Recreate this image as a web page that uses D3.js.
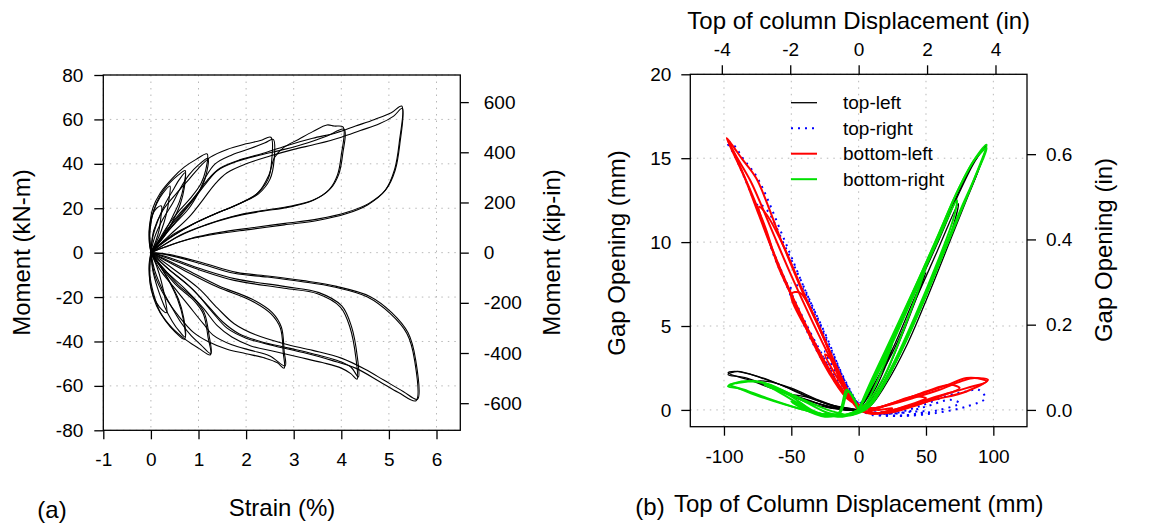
<!DOCTYPE html>
<html>
<head>
<meta charset="utf-8">
<script src="https://cdn.jsdelivr.net/npm/d3@7"></script>
<style>
    body { margin: 0; background: #fff; }
    svg text { font-family: "Liberation Sans", Arial, sans-serif; fill: #000; }
    .axis path, .axis line { stroke: #000; stroke-width: 1.3; }
    .grid line { stroke: #b8b8b8; stroke-width: 1; stroke-dasharray: 1.5,5; }
</style>
</head>
<body>
<svg id="chart" width="1153" height="527"></svg>
<script>

// ---------- (a) moment vs strain : loops, [strain %, moment kN-m] ----------
let posLoops = [
    [[0,0],[-0.04,6],[-0.03,12],[0.03,17],[0.12,20],[0.22,21],[0.21,16],[0.17,10],[0.1,5],[0.03,1.5],[0,0]],
    [[0,0],[-0.03,8],[0.02,16],[0.12,22],[0.26,27],[0.4,30],[0.38,24],[0.32,17],[0.22,10],[0.1,4],[0,0]],
    [[0,0],[-0.02,10],[0.06,19],[0.2,26],[0.4,31.5],[0.58,35],[0.72,37],[0.69,30],[0.6,23],[0.45,16],[0.28,9],[0.1,3],[0,0]],
    [[0,0],[0.04,7],[0.14,14],[0.3,22],[0.46,28],[0.6,33],[0.72,36],[0.7,29],[0.62,22],[0.48,15],[0.3,8],[0.1,2.5],[0,0]],
    [[0,0],[-0.03,10],[0.04,20],[0.2,27],[0.45,33.5],[0.7,38.5],[0.95,42],[1.18,44.5],[1.15,37],[1.05,31],[0.85,25],[0.6,19],[0.35,12],[0.12,4],[0,0]],
    [[0,0],[0.08,7],[0.25,15],[0.45,22],[0.62,29],[0.8,35],[1.0,39.5],[1.2,42.5],[1.17,36],[1.08,30],[0.88,24],[0.62,18],[0.36,11],[0.12,3.5],[0,0]],
    [[0,0],[0.06,10],[0.25,19],[0.55,27],[0.8,33],[1.0,38],[1.25,43],[1.6,46.5],[2.0,49],[2.3,50.5],[2.52,52],[2.54,42],[2.46,33],[2.2,26],[1.8,21.5],[1.3,17],[0.85,12.5],[0.45,7.5],[0.15,3],[0,0]],
    [[0,0],[0.2,6],[0.5,13],[0.8,20],[1.0,27],[1.15,34],[1.35,40],[1.7,44],[2.1,47],[2.4,49.5],[2.57,51],[2.59,42],[2.5,33],[2.26,26.5],[1.86,22],[1.36,17.5],[0.9,13],[0.5,8],[0.17,3],[0,0]],
    [[0,0],[0.45,8],[0.9,13],[1.35,17.5],[1.85,22],[2.25,27],[2.48,35],[2.6,43],[2.8,47.5],[3.1,51],[3.4,54.5],[3.7,57.5],[3.85,57],[4.04,56.5],[4.0,44],[3.92,35],[3.75,28.5],[3.4,23.5],[2.9,20.5],[2.3,18.5],[1.7,16],[1.1,12],[0.6,7.5],[0.2,2.5],[0,0]],
    [[0,0],[0.3,8],[0.6,16],[0.9,24],[1.15,31],[1.4,37],[1.8,41],[2.3,44],[2.8,46.5],[3.3,49.5],[3.7,52.5],[4.06,55.5],[4.03,44.5],[3.95,35.5],[3.78,29],[3.45,24],[2.95,21],[2.35,19],[1.75,16.5],[1.15,12.5],[0.62,8],[0.2,2.5],[0,0]],
    [[0,0],[0.3,9],[0.65,18],[0.95,26],[1.2,33],[1.45,38],[1.9,42],[2.4,45],[2.9,48.5],[3.4,51.5],[3.9,54],[4.3,57],[4.7,60],[5.05,63],[5.27,66],[5.22,50],[5.12,37.5],[4.92,28],[4.55,21.5],[4.1,17.5],[3.5,14.5],[2.8,12.5],[2.1,10.5],[1.4,8.5],[0.8,6],[0.3,2.5],[0,0]],
    [[0,0],[0.4,8],[0.8,16],[1.1,24],[1.35,31],[1.6,36],[2.0,40],[2.5,43.5],[3.0,46.5],[3.5,49],[4.0,52],[4.4,55],[4.8,58],[5.1,61.5],[5.28,65],[5.23,49],[5.13,37],[4.94,28.5],[4.58,22.2],[4.12,18.2],[3.52,15.2],[2.82,13.2],[2.12,11.2],[1.42,9],[0.82,6.3],[0.32,2.8],[0,0]]
];

let negLoops = [
    [[0,0],[-0.04,-6],[-0.02,-13],[0.06,-20],[0.18,-24.5],[0.33,-27],[0.3,-21],[0.22,-13],[0.12,-6],[0.03,-1.5],[0,0]],
    [[0,0],[-0.03,-8],[0,-16],[0.12,-24],[0.3,-30.5],[0.5,-35.5],[0.71,-39],[0.68,-30],[0.56,-21],[0.36,-12],[0.15,-4.5],[0,0]],
    [[0,0],[0.04,-8],[0.14,-16],[0.28,-24],[0.45,-31],[0.6,-35.5],[0.72,-38],[0.69,-29.5],[0.58,-21],[0.38,-12.5],[0.16,-5],[0,0]],
    [[0,0],[-0.02,-10],[0.05,-18],[0.2,-27],[0.45,-34],[0.75,-39.5],[1.0,-43],[1.25,-46],[1.2,-38],[1.1,-27.5],[0.9,-21.5],[0.55,-15],[0.27,-8],[0.08,-3],[0,0]],
    [[0,0],[0.08,-8],[0.25,-17],[0.45,-25],[0.65,-32],[0.85,-37.5],[1.05,-41.5],[1.26,-45.5],[1.22,-37],[1.12,-27],[0.92,-21],[0.57,-14.5],[0.28,-7.5],[0.08,-2.5],[0,0]],
    [[0,0],[0.08,-10],[0.3,-20],[0.6,-29],[0.9,-36],[1.2,-40],[1.6,-43.5],[2.0,-45.5],[2.4,-47.5],[2.65,-49.5],[2.8,-52],[2.78,-45],[2.72,-34],[2.52,-27.5],[2.1,-21.5],[1.4,-15.5],[0.7,-8],[0.26,-3],[0,0]],
    [[0,0],[0.2,-8],[0.5,-16],[0.8,-24],[1.1,-32],[1.3,-37],[1.7,-41.5],[2.1,-44],[2.5,-46.5],[2.82,-51],[2.8,-44.5],[2.74,-33.5],[2.55,-27],[2.13,-21],[1.43,-15],[0.73,-7.5],[0.28,-2.8],[0,0]],
    [[0,0],[0.3,-8],[0.7,-16],[1.1,-25],[1.4,-33],[1.7,-38],[2.1,-42],[2.6,-44.5],[3.1,-47],[3.6,-49.5],[4.0,-52],[4.2,-54.5],[4.33,-57],[4.31,-48],[4.18,-33.5],[3.98,-24.5],[3.5,-18.5],[2.8,-16],[1.75,-12.5],[1.05,-8],[0.35,-2.5],[0,0]],
    [[0,0],[0.35,-7],[0.8,-15],[1.2,-24],[1.5,-31],[1.85,-36.5],[2.3,-40],[2.9,-43],[3.4,-45.5],[3.9,-48.5],[4.2,-51.5],[4.36,-56],[4.34,-47.5],[4.21,-33],[4.01,-24],[3.53,-18],[2.83,-15.3],[1.78,-11.8],[1.08,-7.5],[0.38,-2.2],[0,0]],
    [[0,0],[0.4,-8],[0.9,-17],[1.3,-27],[1.6,-34],[2.0,-38.5],[2.6,-42],[3.2,-45],[3.8,-48.5],[4.3,-52],[4.8,-58],[5.2,-63],[5.57,-66.7],[5.54,-48.5],[5.38,-36.5],[5.03,-27.5],[4.55,-20],[3.85,-15.5],[3.15,-13],[2.45,-11],[1.75,-9.3],[1.05,-5],[0.35,-1],[0,0]],
    [[0,0],[0.45,-7],[1.0,-16],[1.4,-25],[1.75,-32],[2.2,-37],[2.8,-41],[3.4,-44],[4.0,-47.5],[4.5,-52.5],[4.9,-57.5],[5.3,-62.5],[5.6,-66],[5.56,-48],[5.4,-36],[5.06,-27],[4.6,-19.7],[3.9,-15.2],[3.2,-12.6],[2.5,-10.6],[1.8,-8.9],[1.1,-4.7],[0.4,-0.9],[0,0]]
];

let strainTicks = [-1, 0, 1, 2, 3, 4, 5, 6];
let momentTicks = [-80, -60, -40, -20, 0, 20, 40, 60, 80];
let kipTicks = [-600, -400, -200, 0, 200, 400, 600];

// ---------- (b) gap opening vs displacement : cycles, [disp mm, gap mm] ----------
let topLeft = [
    [[0,0],[8,0.9],[16,2.2],[25,3.6],[20,2.6],[12,1.2],[4,0.2],[0,0],[-10,0.1],[-25,0.2],[-18,0.1],[-8,0],[0,0]],
    [[0,0],[10,1.3],[25,3.6],[40,6.4],[50,8.2],[44,6.9],[32,4.4],[18,1.8],[6,0.3],[0,0],[-15,0.1],[-35,0.5],[-50,0.9],[-40,0.8],[-25,0.4],[-10,0.1],[0,0]],
    [[0,0],[10,1.3],[25,3.4],[42,6.5],[58,9.4],[74,12.3],[70,10.9],[56,8.0],[40,5.0],[24,2.3],[10,0.4],[0,0],[-20,0.1],[-40,0.5],[-60,1.2],[-75,1.7],[-68,1.7],[-50,1.3],[-30,0.6],[-12,0.1],[0,0]],
    [[0,0],[8,1.3],[22,3.7],[40,6.8],[57,9.8],[72,12.6],[85,14.7],[95,15.8],[89,14.3],[81,12.7],[69,10.3],[52,6.9],[36,3.9],[20,1.5],[8,0.2],[0,0],[-16,0.1],[-35,0.5],[-58,1.1],[-82,1.8],[-97,2.2],[-92,2.3],[-75,2.0],[-58,1.5],[-40,0.85],[-21,0.3],[-7,0.1],[0,0]],
    [[0,0],[10,1.5],[25,4.1],[43,7.2],[60,10.2],[75,13.0],[87,14.9],[95,15.7],[87,13.9],[78,12.3],[65,9.8],[48,6.5],[32,3.6],[17,1.3],[6,0.1],[0,0],[-18,0.1],[-38,0.6],[-60,1.2],[-83,1.9],[-97,2.1],[-90,2.3],[-72,1.9],[-55,1.4],[-37,0.8],[-18,0.2],[-5,0.05],[0,0]]
];

let topRight = [
    [[0,0],[10,-0.3],[20,-0.3],[25,-0.2],[15,-0.2],[5,0],[0,0.3],[-8,1.1],[-18,2.4],[-25,3.5],[-18,2.9],[-10,1.6],[-2,0.5],[0,0]],
    [[0,0],[15,-0.3],[30,-0.35],[45,-0.2],[50,-0.1],[40,-0.1],[25,-0.2],[10,0],[0,0.4],[-10,1.2],[-23,2.7],[-37,4.7],[-51,7.2],[-44,7.4],[-32,5.6],[-20,3.4],[-9,1.5],[-2,0.4],[0,0]],
    [[0,0],[20,-0.3],[40,-0.3],[60,0],[75,0.4],[68,0.6],[50,0.2],[30,-0.2],[10,-0.1],[0,0.4],[-11,1.1],[-25,3.0],[-42,5.6],[-58,8.4],[-68,10.4],[-75,12.3],[-68,11.9],[-55,9.8],[-40,7.2],[-24,4.3],[-11,1.9],[-2,0.5],[0,0]],
    [[0,0],[15,-0.3],[33,-0.36],[56,-0.2],[80,0.2],[94,0.7],[89,1.2],[80,1.1],[68,0.9],[44.5,0.2],[25,-0.2],[8,-0.1],[0,0.5],[-11,1.0],[-23,2.4],[-36,4.3],[-50,6.8],[-62,9.0],[-71,11.1],[-83,13.5],[-93,15.3],[-98,16.0],[-93,15.8],[-86,15.0],[-75,13.8],[-56,10.3],[-39,7.0],[-23,4.2],[-12,2.0],[-3,0.6],[0,0]]
];

let bottomLeft = [
    [[0,0],[10,-0.2],[20,-0.1],[25,0.1],[15,0.0],[5,0.1],[0,0.3],[-8,1.0],[-18,2.2],[-25,3.3],[-19,2.9],[-12,1.7],[-4,0.5],[0,0]],
    [[0,0],[15,-0.2],[30,0.1],[45,0.5],[50,0.7],[40,0.8],[25,0.4],[10,0.1],[0,0.3],[-10,1.0],[-22,2.4],[-36,4.4],[-50,6.9],[-44,7.0],[-33,5.6],[-22,3.6],[-12,1.8],[-4,0.5],[0,0]],
    [[0,0],[20,-0.2],[40,0.2],[60,0.8],[75,1.3],[68,1.5],[50,1.1],[30,0.5],[10,0.1],[0,0.3],[-10,0.9],[-24,2.7],[-40,5.2],[-56,8.0],[-66,10.0],[-74,12.1],[-68,11.6],[-56,9.8],[-42,7.2],[-26,4.3],[-13,1.9],[-4,0.5],[0,0]],
    [[0,0],[10,-0.24],[33,0.1],[56,0.6],[80,1.1],[96,1.8],[88,1.9],[80,1.9],[63,1.4],[44,0.9],[21,0.3],[5,-0.1],[0,0.2],[-10,0.8],[-22,2.2],[-34.5,4.1],[-48,6.5],[-60,8.6],[-69,10.8],[-81,13.2],[-92,15.2],[-98,16.2],[-94,15.8],[-87,15.0],[-76,13.8],[-58,10.2],[-41,6.9],[-25,4.1],[-14,1.8],[-5,0.5],[0,0]],
    [[0,0],[12,-0.2],[35,0.2],[58,0.8],[80,1.3],[95,1.7],[86,1.9],[76,1.7],[60,1.2],[40,0.7],[18,0.2],[4,-0.1],[0,0.2],[-11,1.0],[-25,2.8],[-38,4.8],[-52,7.2],[-64,9.5],[-74,11.6],[-85,13.9],[-97,16.0],[-90,15.0],[-80,13.6],[-66,11.0],[-50,8.0],[-34,5.2],[-20,2.9],[-9,1.2],[0,0]]
];

let bottomRight = [
    [[0,0],[8,1.2],[16,2.5],[25,3.9],[20,2.9],[12,1.4],[4,0.2],[-5,-0.3],[-15,-0.3],[-25,-0.2],[-18,-0.35],[-8,-0.3],[0,0]],
    [[0,0],[9,1.5],[24,3.9],[40,6.7],[50,8.5],[45,7.3],[33,4.7],[19,2.0],[6,0.4],[-10,-0.3],[-30,-0.2],[-50,0.5],[-42,0.1],[-25,-0.4],[-14,-0.2],[-8,1.1],[-4,0.7],[0,0]],
    [[0,0],[9,1.4],[24,3.8],[41,6.9],[57,9.8],[73,12.5],[70,11.3],[58,8.7],[42,5.6],[26,2.8],[12,0.8],[2,0],[-10,-0.3],[-30,-0.2],[-52,0.9],[-70,1.5],[-62,1.2],[-45,0.4],[-25,-0.3],[-15,-0.2],[-9,1.2],[-5,0.9],[0,0]],
    [[0,0],[8,1.5],[22,3.9],[40,7.0],[57,10.0],[72,12.8],[85,14.8],[95,15.8],[88,14.2],[80,12.6],[68,10.3],[50,6.8],[34,3.9],[18,1.4],[8,0.2],[-5,-0.3],[-19,-0.1],[-35,0.4],[-52,1.0],[-70,1.6],[-87,1.7],[-97,1.4],[-90,1.3],[-77,0.9],[-54,0.3],[-30,-0.2],[-11,-0.4],[0,0]],
    [[0,0],[10,1.7],[25,4.3],[43,7.5],[60,10.6],[75,13.3],[87,15.0],[95,15.6],[86,13.8],[76,12.0],[63,9.5],[46,6.1],[30,3.3],[15,1.0],[5,0.1],[-8,-0.3],[-22,-0.2],[-40,0.5],[-58,1.2],[-75,1.7],[-90,1.6],[-96,1.5],[-85,1.2],[-68,0.7],[-45,0.1],[-25,-0.3],[-10,-0.3],[0,0]]
];

let seriesNames = ["top-left", "top-right", "bottom-left", "bottom-right"];
let seriesColors = ["#000000", "#0000ff", "#ff0000", "#00e000"];
let dispTicks = [-100, -50, 0, 50, 100];
let inchTicks = [-4, -2, 0, 2, 4];
let gapTicks = [0, 5, 10, 15, 20];
let gapInTicks = [0.0, 0.2, 0.4, 0.6];

let svg = d3.select("#chart");
let hyphen = d => String(d);   // plain hyphen, not the unicode minus

// ================= panel (a) =================
let a = {left: 103.3, right: 460.3, top: 75, bottom: 430.3};

let xA = d3.scaleLinear().domain([-1, 6.5]).range([a.left, a.right]);
let yA = d3.scaleLinear().domain([-80, 80]).range([a.bottom, a.top]);
// 1 kN-m = 8.8507 kip-in
let yA2 = d3.scaleLinear().domain([-80 * 8.8507, 80 * 8.8507]).range([a.bottom, a.top]);

let gA = svg.append("g");

gA.append("g").attr("class", "grid")
    .selectAll("line").data(strainTicks).enter().append("line")
    .attr("x1", d => xA(d)).attr("x2", d => xA(d))
    .attr("y1", a.top).attr("y2", a.bottom);
gA.append("g").attr("class", "grid")
    .selectAll("line").data(momentTicks).enter().append("line")
    .attr("y1", d => yA(d)).attr("y2", d => yA(d))
    .attr("x1", a.left).attr("x2", a.right);

let lineA = d3.line()
    .x(d => xA(d[0]))
    .y(d => yA(d[1]))
    .curve(d3.curveCatmullRom.alpha(0.5));

gA.append("g")
    .selectAll("path")
    .data(posLoops.concat(negLoops))
    .enter().append("path")
    .attr("d", lineA)
    .attr("fill", "none")
    .attr("stroke", "#000")
    .attr("stroke-width", 1.1);

gA.append("g").attr("class", "axis")
    .attr("transform", `translate(0, ${a.bottom})`)
    .call(d3.axisBottom(xA).tickValues(strainTicks).tickSize(9).tickSizeOuter(0).tickPadding(13).tickFormat(hyphen))
    .call(g => g.select(".domain").remove());
gA.append("g").attr("class", "axis")
    .attr("transform", `translate(${a.left}, 0)`)
    .call(d3.axisLeft(yA).tickValues(momentTicks).tickSize(9).tickSizeOuter(0).tickPadding(11).tickFormat(hyphen))
    .call(g => g.select(".domain").remove());
gA.append("g").attr("class", "axis")
    .attr("transform", `translate(${a.right}, 0)`)
    .call(d3.axisRight(yA2).tickValues(kipTicks).tickSize(8.5).tickSizeOuter(0).tickPadding(15).tickFormat(hyphen))
    .call(g => g.select(".domain").remove());

gA.selectAll(".axis text").style("font-size", "19px").attr("fill", "#000");

gA.append("rect")
    .attr("x", a.left).attr("y", a.top)
    .attr("width", a.right - a.left).attr("height", a.bottom - a.top)
    .attr("fill", "none").attr("stroke", "#000").attr("stroke-width", 1.3);

gA.append("text").text("Moment (kN-m)")
    .attr("transform", "translate(21.5, 252.5) rotate(-90)")
    .attr("text-anchor", "middle").attr("dy", "0.35em").style("font-size", "24px");
gA.append("text").text("Moment (kip-in)")
    .attr("transform", "translate(551.5, 252.5) rotate(-90)")
    .attr("text-anchor", "middle").attr("dy", "0.35em").style("font-size", "24px");
gA.append("text").text("Strain (%)")
    .attr("x", 282).attr("y", 508)
    .attr("text-anchor", "middle").attr("dy", "0.35em").style("font-size", "24px");
gA.append("text").text("(a)")
    .attr("x", 52).attr("y", 510)
    .attr("text-anchor", "middle").attr("dy", "0.35em").style("font-size", "24px");

// ================= panel (b) =================
let b = {left: 690.3, right: 1027, top: 74.3, bottom: 426.7};

let xB = d3.scaleLinear().domain([-125, 125]).range([b.left, b.right]);
let xBin = d3.scaleLinear().domain([-125 / 25.4, 125 / 25.4]).range([b.left, b.right]);
let yB = d3.scaleLinear().domain([-1, 20]).range([b.bottom, b.top]);
let yBin = d3.scaleLinear().domain([-1 / 25.4, 20 / 25.4]).range([b.bottom, b.top]);

let gB = svg.append("g");

gB.append("g").attr("class", "grid")
    .selectAll("line").data(dispTicks).enter().append("line")
    .attr("x1", d => xB(d)).attr("x2", d => xB(d))
    .attr("y1", b.top).attr("y2", b.bottom);
gB.append("g").attr("class", "grid")
    .selectAll("line").data(gapTicks).enter().append("line")
    .attr("y1", d => yB(d)).attr("y2", d => yB(d))
    .attr("x1", b.left).attr("x2", b.right);

let lineB = d3.line()
    .x(d => xB(d[0]))
    .y(d => yB(d[1]))
    .curve(d3.curveCatmullRom.alpha(0.5));

let allSeries = [topLeft, topRight, bottomLeft, bottomRight];
let widths = [1.3, 2, 2, 2];

allSeries.forEach((cycles, i) => {
    gB.append("g")
        .selectAll("path")
        .data(cycles)
        .enter().append("path")
        .attr("d", lineB)
        .attr("fill", "none")
        .attr("stroke", seriesColors[i])
        .attr("stroke-width", widths[i])
        .attr("stroke-dasharray", i === 1 ? "2,5" : null);
});

gB.append("g").attr("class", "axis")
    .attr("transform", `translate(0, ${b.bottom})`)
    .call(d3.axisBottom(xB).tickValues(dispTicks).tickSize(9).tickSizeOuter(0).tickPadding(14).tickFormat(hyphen))
    .call(g => g.select(".domain").remove());
gB.append("g").attr("class", "axis")
    .attr("transform", `translate(0, ${b.top})`)
    .call(d3.axisTop(xBin).tickValues(inchTicks).tickSize(9).tickSizeOuter(0).tickPadding(9).tickFormat(hyphen))
    .call(g => g.select(".domain").remove());
gB.append("g").attr("class", "axis")
    .attr("transform", `translate(${b.left}, 0)`)
    .call(d3.axisLeft(yB).tickValues(gapTicks).tickSize(9).tickSizeOuter(0).tickPadding(10).tickFormat(hyphen))
    .call(g => g.select(".domain").remove());
gB.append("g").attr("class", "axis")
    .attr("transform", `translate(${b.right}, 0)`)
    .call(d3.axisRight(yBin).tickValues(gapInTicks).tickSize(9).tickSizeOuter(0).tickPadding(10).tickFormat(d3.format(".1f")))
    .call(g => g.select(".domain").remove());

gB.selectAll(".axis text").style("font-size", "19px").attr("fill", "#000");

gB.append("rect")
    .attr("x", b.left).attr("y", b.top)
    .attr("width", b.right - b.left).attr("height", b.bottom - b.top)
    .attr("fill", "none").attr("stroke", "#000").attr("stroke-width", 1.3);

// legend
let legend = gB.append("g").attr("class", "legend");
seriesNames.forEach((name, i) => {
    let yy = 102.7 + i * 25.5;
    legend.append("line")
        .attr("x1", 791).attr("x2", 817)
        .attr("y1", yy).attr("y2", yy)
        .attr("stroke", seriesColors[i])
        .attr("stroke-width", widths[i])
        .attr("stroke-dasharray", i === 1 ? "2,5" : null);
    legend.append("text").text(name)
        .attr("x", 843).attr("y", yy)
        .attr("dy", "0.35em").style("font-size", "19px");
});

gB.append("text").text("Top of column Displacement (in)")
    .attr("x", 858.7).attr("y", 20.5)
    .attr("text-anchor", "middle").attr("dy", "0.35em").style("font-size", "24px");
gB.append("text").text("Top of Column Displacement (mm)")
    .attr("x", 858.7).attr("y", 504)
    .attr("text-anchor", "middle").attr("dy", "0.35em").style("font-size", "24px");
gB.append("text").text("(b)")
    .attr("x", 650).attr("y", 507)
    .attr("text-anchor", "middle").attr("dy", "0.35em").style("font-size", "24px");
gB.append("text").text("Gap Opening (mm)")
    .attr("transform", "translate(617, 253) rotate(-90)")
    .attr("text-anchor", "middle").attr("dy", "0.35em").style("font-size", "24px");
gB.append("text").text("Gap Opening (in)")
    .attr("transform", "translate(1104, 250) rotate(-90)")
    .attr("text-anchor", "middle").attr("dy", "0.35em").style("font-size", "24px");

</script>
</body>
</html>
